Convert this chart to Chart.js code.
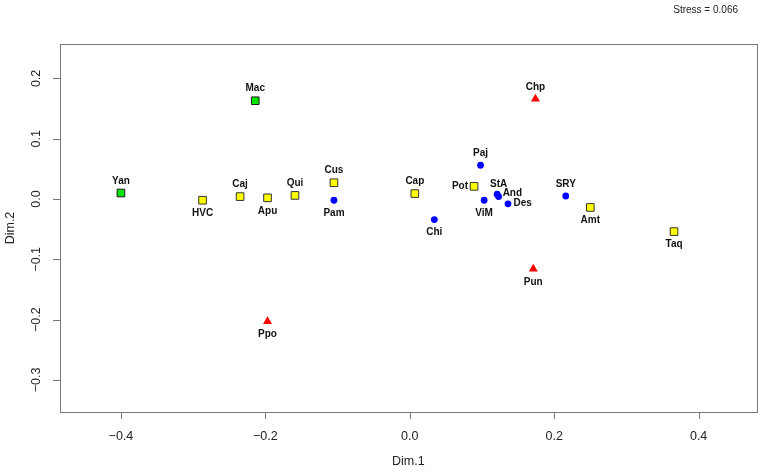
<!DOCTYPE html>
<html>
<head>
<meta charset="utf-8">
<script src="https://cdn.jsdelivr.net/npm/chart.js@4"></script>
<style>
  html, body { margin: 0; padding: 0; background: #fff; }
  #wrap { width: 763px; height: 473px; }
</style>
</head>
<body>
<div id="wrap"><canvas id="mdsChart"></canvas></div>
<script>
// MDS configuration, values
const names = ["Yan","Mac","HVC","Caj","Apu","Qui","Cus","Pam","Ppo","Cap","Chi","Pot","Paj","ViM","StA","And","Des","SRY","Amt","Taq","Chp","Pun"];
const dim1  = [-0.400,-0.214,-0.287,-0.235,-0.197,-0.159,-0.105,-0.105,-0.197,0.007,0.034,0.089,0.098,0.103,0.123,0.121,0.136,0.216,0.250,0.366,0.174,0.171];
const dim2  = [0.010,0.163,-0.002,0.004,0.002,0.006,0.027,-0.002,-0.203,0.009,-0.034,0.021,0.056,-0.002,0.004,0.008,-0.008,0.005,-0.014,-0.054,0.166,-0.116];
const group = ["G","G","Y","Y","Y","Y","Y","B","R","Y","B","Y","B","B","B","B","B","B","Y","Y","R","R"];

const xTicks = [-0.4, -0.2, 0.0, 0.2, 0.4];
const yTicks = [-0.3, -0.2, -0.1, 0.0, 0.1, 0.2];
const stressText = "Stress = 0.066";

// where each label sits relative to its point
const labelSide = ["up","up","down","up","down","up","up","down","down","up","down","left","up","down","up","right","right","up","down","down","up","down"];

const groupStyle = {
  G: { pointStyle: "rect", radius: 5.4, bg: "#00e600", border: "#1a1a1a", bw: 1 },
  Y: { pointStyle: "rect", radius: 5.4, bg: "#ffff00", border: "#333333", bw: 1 },
  B: { pointStyle: "circle", radius: 3.4, bg: "#0000ff", border: "#0000ff", bw: 0 },
  R: { pointStyle: "triangle", radius: 5.2, bg: "#ff0000", border: "#ff0000", bw: 0 }
};

const datasets = ["G","Y","B","R"].map(function(g){
  const pts = [];
  for (let i = 0; i < names.length; i++) {
    if (group[i] === g) pts.push({ x: dim1[i], y: dim2[i], name: names[i], side: labelSide[i] });
  }
  const st = groupStyle[g];
  return {
    label: g,
    data: pts,
    pointStyle: st.pointStyle,
    pointRadius: st.radius,
    pointHoverRadius: st.radius,
    backgroundColor: st.bg,
    borderColor: st.border,
    borderWidth: st.bw
  };
});

function fmt(v) {
  const s = v.toFixed(1);
  return v < 0 ? "\u2212" + s.slice(1) : s;
}

const rPlotDecor = {
  id: "rPlotDecor",
  afterDatasetsDraw(chart) {
    const ctx = chart.ctx;
    const a = chart.chartArea;
    const xs = chart.scales.x, ys = chart.scales.y;
    ctx.save();

    // point labels
    ctx.fillStyle = "#111";
    ctx.font = "bold 10px 'Liberation Sans', Arial, sans-serif";
    chart.data.datasets.forEach(function(ds, di){
      const meta = chart.getDatasetMeta(di);
      meta.data.forEach(function(el, j){
        const p = ds.data[j];
        let tx = el.x, ty = el.y;
        ctx.textBaseline = "middle";
        if (p.side === "up") { ctx.textAlign = "center"; ty -= 12; }
        else if (p.side === "down") { ctx.textAlign = "center"; ty += 13; }
        else if (p.side === "left") { ctx.textAlign = "right"; tx -= 6; }
        else { ctx.textAlign = "left"; tx += 5.5; ty -= 1; }
        ctx.fillText(p.name, tx, ty);
      });
    });

    // box
    ctx.strokeStyle = "#7a7a7a";
    ctx.lineWidth = 1;
    ctx.strokeRect(Math.round(a.left) + 0.5, Math.round(a.top) + 0.5,
                   Math.round(a.right - a.left), Math.round(a.bottom - a.top));

    // ticks
    ctx.beginPath();
    xTicks.forEach(function(v){
      const px = Math.round(xs.getPixelForValue(v)) + 0.5;
      ctx.moveTo(px, a.bottom); ctx.lineTo(px, a.bottom + 7);
    });
    yTicks.forEach(function(v){
      const py = Math.round(ys.getPixelForValue(v)) + 0.5;
      ctx.moveTo(a.left, py); ctx.lineTo(a.left - 7, py);
    });
    ctx.stroke();

    // tick labels
    ctx.fillStyle = "#222";
    ctx.font = "12.5px 'Liberation Sans', Arial, sans-serif";
    ctx.textAlign = "center";
    ctx.textBaseline = "middle";
    xTicks.forEach(function(v){
      ctx.fillText(fmt(v), xs.getPixelForValue(v), a.bottom + 25);
    });
    yTicks.forEach(function(v){
      ctx.save();
      ctx.translate(a.left - 23, ys.getPixelForValue(v));
      ctx.rotate(-Math.PI / 2);
      ctx.fillText(fmt(v), 0, 0);
      ctx.restore();
    });

    // axis titles
    ctx.fillText("Dim.1", (a.left + a.right) / 2, a.bottom + 50);
    ctx.save();
    ctx.translate(11, (a.top + a.bottom) / 2);
    ctx.rotate(-Math.PI / 2);
    ctx.fillText("Dim.2", 0, 0);
    ctx.restore();

    // stress note
    ctx.font = "10px 'Liberation Sans', Arial, sans-serif";
    ctx.textAlign = "right";
    ctx.fillText(stressText, 738, 10);

    ctx.restore();
  }
};

new Chart("mdsChart", {
  type: "scatter",
  data: { datasets: datasets },
  options: {
    responsive: true,
    maintainAspectRatio: false,
    animation: false,
    layout: { padding: { left: 60, top: 44, right: 6, bottom: 61 } },
    scales: {
      x: { type: "linear", display: false, min: -0.4844, max: 0.4803 },
      y: { type: "linear", display: false, min: -0.3532, max: 0.2571 }
    },
    plugins: {
      legend: { display: false },
      tooltip: { enabled: false }
    }
  },
  plugins: [rPlotDecor]
});
</script>
</body>
</html>
